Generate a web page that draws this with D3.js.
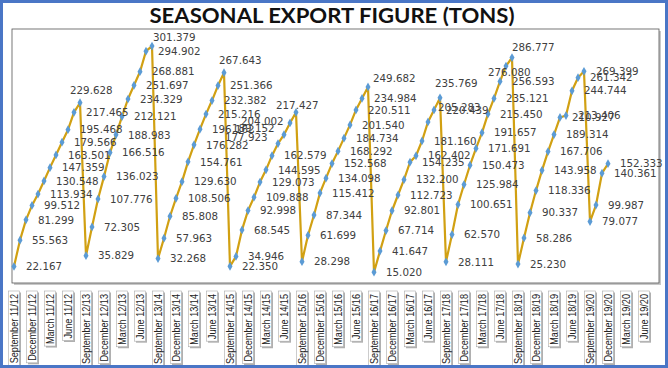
<!DOCTYPE html>
<html><head><meta charset="utf-8">
<script src="https://cdn.jsdelivr.net/npm/d3@7"></script>
<style>body{margin:0;background:#fff}svg{display:block}</style>
</head><body>
<svg id="c" width="668" height="368"></svg>
<script>
const chartTitle = "SEASONAL EXPORT FIGURE (TONS)";
const seasons = ["11/12","12/13","13/14","14/15","15/16","16/17","17/18","18/19","19/20"];
const s1112 = [22.167,55.563,81.299,99.512,113.934,130.548,147.359,163.501,179.566,195.468,217.465,229.628];
const s1213 = [35.829,72.305,107.776,136.023,166.516,188.983,212.121,234.329,251.697,268.881,294.902,301.379];
const s1314 = [32.268,57.963,85.808,108.506,129.630,154.761,176.282,196.162,215.216,232.382,251.366,267.643];
const s1415 = [22.350,34.946,68.545,92.998,109.888,129.073,144.595,162.579,177.923,189.152,204.002,217.427];
const s1516 = [28.298,61.699,87.344,115.412,134.098,152.568,168.292,184.734,201.540,220.511,234.984,249.682];
const s1617 = [15.020,41.647,67.714,92.801,112.723,132.200,154.235,162.402,181.160,205.283,220.439,235.769];
const s1718 = [28.111,62.570,100.651,125.984,150.473,171.691,191.657,215.450,235.121,256.593,276.080,286.777];
const s1819 = [25.230,58.286,90.337,118.336,143.958,167.706,189.314,210.927,213.406,244.744,261.342,269.399];
const s1920 = [79.077,99.987,140.361,152.333];
const tickLabels = [
 "September 11/12","December 11/12","March 11/12","June 11/12",
 "September 12/13","December 12/13","March 12/13","June 12/13",
 "September 13/14","December 13/14","March 13/14","June 13/14",
 "September 14/15","December 14/15","March 14/15","June 14/15",
 "September 15/16","December 15/16","March 15/16","June 15/16",
 "September 16/17","December 16/17","March 16/17","June 16/17",
 "September 17/18","December 17/18","March 17/18","June 17/18",
 "September 18/19","December 18/19","March 18/19","June 18/19",
 "September 19/20","December 19/20","March 19/20","June 19/20"];

// layout-only tweaks for label placement (offset from marker: start-x, center-y)
const labelNudge = {
 11:[-10,-12], 23:[1,-9], 35:[-5,-12], 44:[-53,-6], 45:[-52,-6], 46:[-49,-2], 47:[-20,-7],
 59:[5,-9], 69:[10,-15], 71:[-5,-15], 82:[-18,6], 83:[0,-10]
};

const seasonValues = [s1112,s1213,s1314,s1415,s1516,s1617,s1718,s1819,s1920];
const values = seasonValues.flat();
const points = values.map((v,i)=>({i, v}));

const svg = d3.select("#c");
const W = 668, H = 368;
svg.append("rect").attr("x",0).attr("y",0).attr("width",W).attr("height",H).attr("fill","#fff");

const x = d3.scaleLinear().domain([0, tickLabels.length*3 - 1]).range([14, 656]);
const y = d3.scaleLinear().domain([0, 323]).range([284, 29]);

// plot box with shadow
svg.append("rect").attr("x",14).attr("y",31).attr("width",647).attr("height",254).attr("fill","#c8c8c8");
svg.append("rect").attr("x",12).attr("y",29).attr("width",647).attr("height",254)
  .attr("fill","#fff").attr("stroke","#555").attr("stroke-width",0.8);

// title
svg.append("text").attr("x",332).attr("y",23).attr("text-anchor","middle")
  .attr("font-family","Lato, 'Open Sans', sans-serif").attr("font-weight","bold").attr("font-size",21)
  .attr("textLength",365).attr("lengthAdjust","spacingAndGlyphs").attr("fill","#111").text(chartTitle);

// line
const line = d3.line().x(d=>x(d.i)).y(d=>y(d.v));
svg.append("path").datum(points).attr("d",line).attr("fill","none")
  .attr("stroke","#d1a012").attr("stroke-width",2.2).attr("stroke-linejoin","round");

// markers
svg.append("g").selectAll("path").data(points).join("path")
  .attr("d", d3.symbol().type(d3.symbolDiamond).size(22))
  .attr("transform", d=>`translate(${x(d.i)},${y(d.v)})`)
  .attr("fill","#5b9bd5");

// data labels
svg.append("g").selectAll("text").data(points).join("text")
  .attr("x", d=>x(d.i) + (labelNudge[d.i] ? labelNudge[d.i][0] : 12))
  .attr("y", d=>y(d.v) + (labelNudge[d.i] ? labelNudge[d.i][1] : 0))
  .attr("dy","0.36em")
  .attr("font-family","'DejaVu Sans', Verdana, sans-serif").attr("font-size",10.3)
  .attr("fill","#404040")
  .text(d=>d.v.toFixed(3));

// x axis labels in boxes
const ax = svg.append("g");
tickLabels.forEach((lab,k)=>{
  const g = ax.append("g").attr("transform",`translate(${x(k*3)},292) rotate(-90)`);
  const t = g.append("text").attr("x",-2).attr("y",0).attr("dy","0.35em")
    .attr("text-anchor","end")
    .attr("font-family","'Liberation Sans', Arial, sans-serif")
    .attr("font-size",11).attr("fill","#222").text(lab);
  const raw = t.node().getComputedTextLength();
  const len = raw*0.83;
  t.attr("textLength",len).attr("lengthAdjust","spacingAndGlyphs");
  g.insert("rect","text").attr("x",-len-4).attr("y",-5.5).attr("width",len+5).attr("height",11)
    .attr("fill","#fff").attr("stroke","#aaa").attr("stroke-width",0.6);
  g.insert("rect","rect").attr("x",-len-5.5).attr("y",-4).attr("width",len+5).attr("height",11)
    .attr("fill","#b0b0b0");
});

// outer blue frame
svg.append("rect").attr("x",1.5).attr("y",1.5).attr("width",W-3).attr("height",H-3)
  .attr("fill","none").attr("stroke","#4a76c6").attr("stroke-width",3);
</script>
</body></html>
